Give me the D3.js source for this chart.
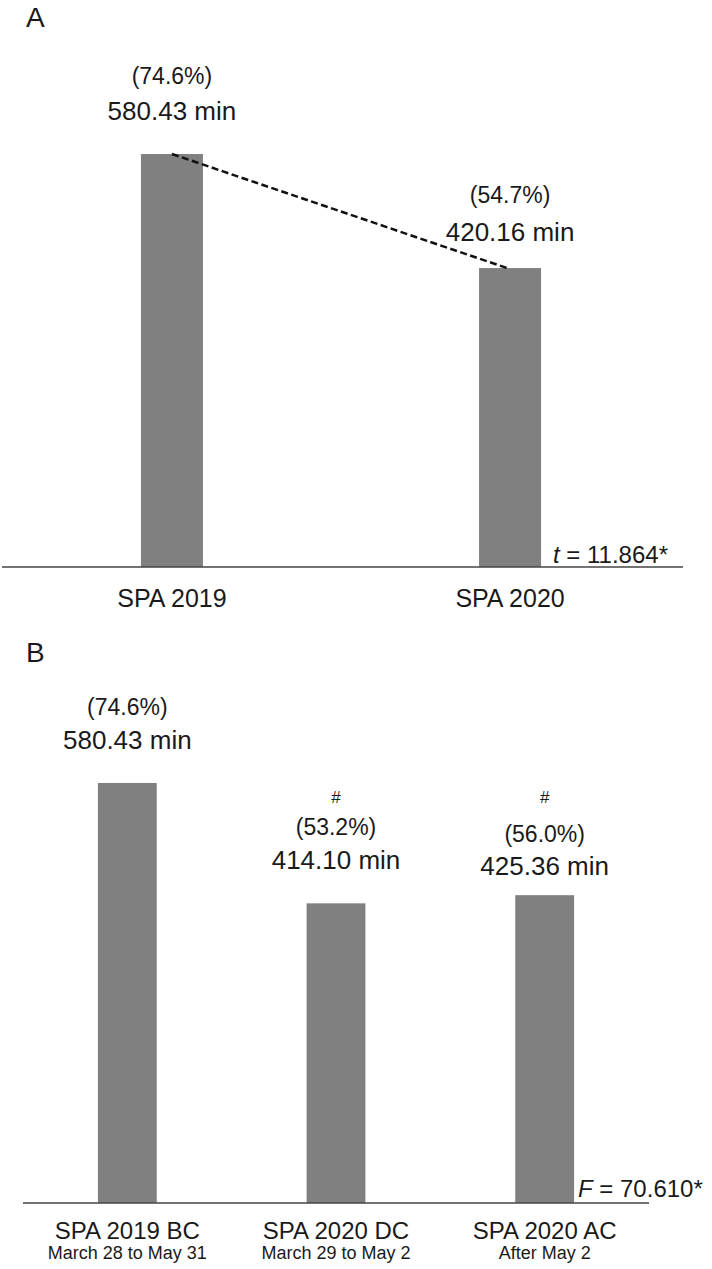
<!DOCTYPE html>
<html><head><meta charset="utf-8">
<script src="https://cdn.jsdelivr.net/npm/d3@7"></script>
<style>
html,body{margin:0;padding:0;background:#fff;}
svg text{font-family:"Liberation Sans",Arial,sans-serif;fill:#1a1a1a;}
</style></head>
<body>
<svg id="chart" width="712" height="1269"></svg>
<script>
// Panel A data
const catsA = ["SPA 2019", "SPA 2020"];
const valsA = [580.43, 420.16];
const pctA = ["(74.6%)", "(54.7%)"];
const statA = "11.864*";

// Panel B data
const catsB = ["SPA 2019 BC", "SPA 2020 DC", "SPA 2020 AC"];
const subB = ["March 28 to May 31", "March 29 to May 2", "After May 2"];
const valsB = [580.43, 414.10, 425.36];
const pctB = ["(74.6%)", "(53.2%)", "(56.0%)"];
const markB = ["", "#", "#"];
const statB = "70.610*";

const svg = d3.select("#chart");
const barColor = "#808080";
const FF = "Liberation Sans, Arial, sans-serif";
const fmt = v => d3.format(".2f")(v) + " min";

// layout nudges for annotation stacks (pixels, per bar)
const nudgeA = { pct: [0, 5], val: [2, 9] };
const nudgeB = { mark: [0, 0, 8], pct: [0, 0, 15], val: [0, 0, 14] };

// ---------- Panel A ----------
const gA = svg.append("g");
const xA = d3.scaleBand().domain(catsA).range([3, 679]).paddingInner(0.8166).paddingOuter(0.408);
const yA = d3.scaleLinear().domain([0, 600]).range([567, 140.1]);
const cxA = i => xA(catsA[i]) + xA.bandwidth() / 2;

gA.append("text").attr("x", 26).attr("y", 27).attr("font-size", 28).text("A");

gA.selectAll("rect").data(valsA).join("rect")
  .attr("x", (d, i) => xA(catsA[i]))
  .attr("width", xA.bandwidth())
  .attr("y", d => yA(d))
  .attr("height", d => yA(0) - yA(d))
  .attr("fill", barColor);

gA.append("line")
  .attr("x1", cxA(0))
  .attr("y1", yA(valsA[0]))
  .attr("x2", cxA(1) - 3)
  .attr("y2", yA(valsA[1]))
  .attr("stroke", "#111").attr("stroke-width", 2.5).attr("stroke-dasharray", "7,3.5");

const axA = gA.append("g").attr("transform", `translate(0,${yA(0)})`)
  .call(d3.axisBottom(xA).tickSize(0).tickPadding(22));
axA.select(".domain").attr("d", "M2,0H683").attr("stroke", "#444").attr("stroke-width", 1.6);
axA.selectAll(".tick text").attr("font-size", 25).attr("fill", "#1a1a1a").attr("font-family", FF);

gA.selectAll("text.pct").data(pctA).join("text").attr("class", "pct")
  .attr("x", (d, i) => cxA(i))
  .attr("y", (d, i) => yA(valsA[i]) - 70 + nudgeA.pct[i])
  .attr("text-anchor", "middle").attr("font-size", 23).text(d => d);
gA.selectAll("text.val").data(valsA).join("text").attr("class", "val")
  .attr("x", (d, i) => cxA(i))
  .attr("y", (d, i) => yA(d) - 36 + nudgeA.val[i])
  .attr("text-anchor", "middle").attr("font-size", 26).text(d => fmt(d));

const tA = gA.append("text").attr("x", 553).attr("y", yA(0) - 4).attr("font-size", 24);
tA.append("tspan").attr("font-style", "italic").text("t");
tA.append("tspan").text(" = " + statA);

// ---------- Panel B ----------
const gB = svg.append("g");
const xB = d3.scaleBand().domain(catsB).range([23, 649]).paddingInner(0.718).paddingOuter(0.359);
const yB = d3.scaleLinear().domain([0, 600]).range([1203, 768.8]);
const cxB = i => xB(catsB[i]) + xB.bandwidth() / 2;

gB.append("text").attr("x", 26).attr("y", 662).attr("font-size", 28).text("B");

gB.selectAll("rect").data(valsB).join("rect")
  .attr("x", (d, i) => xB(catsB[i]))
  .attr("width", xB.bandwidth())
  .attr("y", d => yB(d))
  .attr("height", d => yB(0) - yB(d))
  .attr("fill", barColor);

const axB = gB.append("g").attr("transform", `translate(0,${yB(0)})`)
  .call(d3.axisBottom(xB).tickSize(0).tickPadding(19));
axB.select(".domain").attr("d", "M23,0H649").attr("stroke", "#444").attr("stroke-width", 1.6);
axB.selectAll(".tick text").attr("font-size", 24).attr("fill", "#1a1a1a").attr("font-family", FF);
axB.selectAll(".tick").append("text")
  .attr("y", 56).attr("text-anchor", "middle").attr("font-size", 18).attr("fill", "#1a1a1a")
  .attr("font-family", FF)
  .text((d, i) => subB[i]);

gB.selectAll("text.mark").data(markB).join("text").attr("class", "mark")
  .attr("x", (d, i) => cxB(i))
  .attr("y", (d, i) => yB(valsB[i]) - 100 + nudgeB.mark[i])
  .attr("text-anchor", "middle").attr("font-size", 17).text(d => d);
gB.selectAll("text.pct").data(pctB).join("text").attr("class", "pct")
  .attr("x", (d, i) => cxB(i))
  .attr("y", (d, i) => yB(valsB[i]) - 68 + nudgeB.pct[i])
  .attr("text-anchor", "middle").attr("font-size", 23).text(d => d);
gB.selectAll("text.val").data(valsB).join("text").attr("class", "val")
  .attr("x", (d, i) => cxB(i))
  .attr("y", (d, i) => yB(d) - 34 + nudgeB.val[i])
  .attr("text-anchor", "middle").attr("font-size", 26).text(d => fmt(d));

const tB = gB.append("text").attr("x", 578).attr("y", yB(0) - 6).attr("font-size", 24);
tB.append("tspan").attr("font-style", "italic").text("F");
tB.append("tspan").text(" = " + statB);
</script>
</body></html>
